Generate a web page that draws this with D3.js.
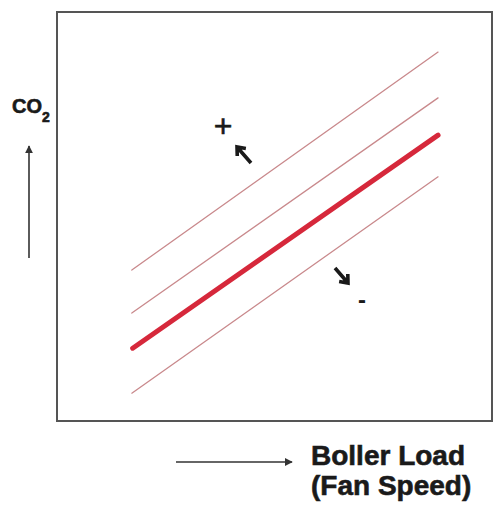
<!DOCTYPE html>
<html>
<head>
<meta charset="utf-8">
<script src="https://cdn.jsdelivr.net/npm/d3@7"></script>
<style>
  html, body { margin: 0; padding: 0; background: #fff; }
  svg { display: block; }
  text { font-family: "Liberation Sans", Arial, sans-serif; fill: #1a1a1a; }
  .heavy { stroke: #1a1a1a; stroke-width: 0.6px; }
</style>
</head>
<body>
<svg id="chart" width="500" height="509"></svg>
<script>
// schematic lines: CO2 vs boiler load, [x, y] in 0..100 units of the frame
const lineNames = ["upper2", "upper1", "target", "lower1"];
const lineStarts = [[17.2, 36.9], [17.2, 26.4], [17.4, 17.8], [17.2, 6.8]];
const lineEnds = [[87.6, 90.2], [87.6, 79.0], [87.6, 69.9], [87.6, 59.7]];
const yLabel = "CO";
const ySub = "2";
const xLabelLines = ["Boller Load", "(Fan Speed)"];
const plusMinus = ["+", "-"];

const svg = d3.select("#chart");

const frame = { left: 57, right: 492, top: 12, bottom: 421 };

const x = d3.scaleLinear().domain([0, 100]).range([frame.left, frame.right]);
const y = d3.scaleLinear().domain([0, 100]).range([frame.bottom, frame.top]);

// arrow markers
const defs = svg.append("defs");
defs.append("marker")
  .attr("id", "tri")
  .attr("viewBox", "0 0 10 10")
  .attr("refX", 9)
  .attr("refY", 5)
  .attr("markerWidth", 8)
  .attr("markerHeight", 8)
  .attr("markerUnits", "userSpaceOnUse")
  .attr("orient", "auto")
  .append("path")
  .attr("d", "M0,0 L10,5 L0,10 z")
  .attr("fill", "#333");

// frame
svg.append("rect")
  .attr("x", x(0))
  .attr("y", y(100))
  .attr("width", x(100) - x(0))
  .attr("height", y(0) - y(100))
  .attr("fill", "none")
  .attr("stroke", "#555")
  .attr("stroke-width", 2);

// lines
const line = d3.line().x((d) => x(d[0])).y((d) => y(d[1]));
lineNames.forEach((name, i) => {
  const thick = name === "target";
  svg.append("path")
    .datum([lineStarts[i], lineEnds[i]])
    .attr("fill", "none")
    .attr("stroke", thick ? "#d6283b" : "#c9898c")
    .attr("stroke-width", thick ? 5 : 1.3)
    .attr("stroke-linecap", "round")
    .attr("d", line);
});

// + / - with bold direction arrows
svg.append("text")
  .attr("class", "heavy")
  .attr("x", 223)
  .attr("y", 137)
  .attr("text-anchor", "middle")
  .style("font-size", "32px")
  .text(plusMinus[0]);

svg.append("text")
  .attr("x", 362)
  .attr("y", 308)
  .attr("text-anchor", "middle")
  .style("font-size", "24px")
  .style("font-weight", "bold")
  .text(plusMinus[1]);

const drawBoldArrow = (x1, y1, x2, y2) => {
  const ang = Math.atan2(y2 - y1, x2 - x1);
  const h = 9;
  const a1 = ang + Math.PI * 0.78;
  const a2 = ang - Math.PI * 0.78;
  svg.append("path")
    .attr("d",
      `M${x1},${y1} L${x2},${y2} ` +
      `M${x2 + h * Math.cos(a1)},${y2 + h * Math.sin(a1)} L${x2},${y2} ` +
      `L${x2 + h * Math.cos(a2)},${y2 + h * Math.sin(a2)}`)
    .attr("fill", "none")
    .attr("stroke", "#1a1a1a")
    .attr("stroke-width", 3.6)
    .attr("stroke-linejoin", "miter");
};
drawBoldArrow(251, 163, 237, 147);
drawBoldArrow(335, 268, 348, 283);

// y label + arrow
const yl = svg.append("text")
  .attr("class", "heavy")
  .attr("x", 12)
  .attr("y", 113)
  .style("font-size", "20px")
  .style("font-weight", "bold");
yl.append("tspan").text(yLabel);
yl.append("tspan")
  .attr("dy", 9)
  .style("font-size", "14px")
  .text(ySub);

svg.append("line")
  .attr("x1", 29).attr("y1", 258)
  .attr("x2", 29).attr("y2", 146)
  .attr("stroke", "#333")
  .attr("stroke-width", 1.6)
  .attr("marker-end", "url(#tri)");

// x label + arrow
svg.append("line")
  .attr("x1", 176).attr("y1", 462)
  .attr("x2", 292).attr("y2", 462)
  .attr("stroke", "#333")
  .attr("stroke-width", 1.6)
  .attr("marker-end", "url(#tri)");

svg.selectAll(".xlab")
  .data(xLabelLines)
  .join("text")
  .attr("class", "xlab heavy")
  .attr("x", 311)
  .attr("y", (d, i) => 465 + i * 30)
  .style("font-size", "28px")
  .style("font-weight", "bold")
  .text((d) => d);
</script>
</body>
</html>
